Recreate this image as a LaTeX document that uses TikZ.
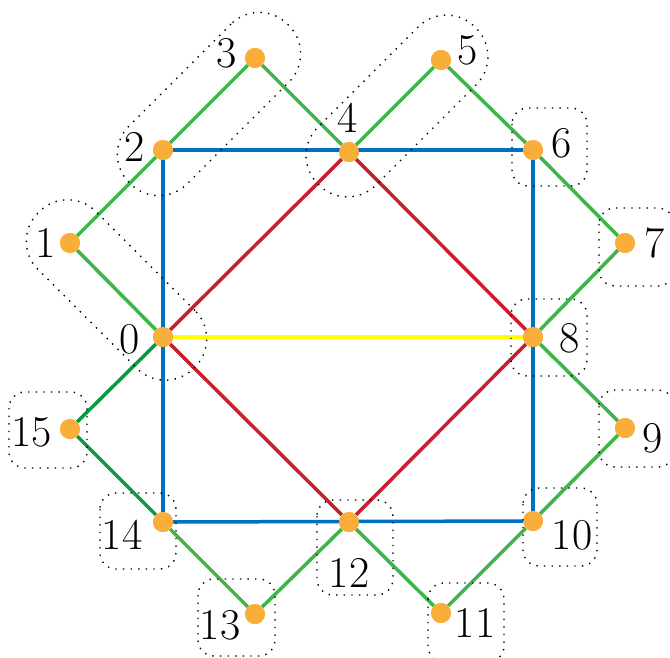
\documentclass[tikz,border=0pt]{standalone}
\usepackage{fontspec}
\begin{document}
\begin{tikzpicture}[x=1pt,y=-1pt,
  vtx/.style={circle,fill=vorange,inner sep=0pt,minimum size=20pt},
  lab/.style={inner sep=0pt,font=\fontsize{44}{48}\selectfont},
  ge/.style={draw=lgreen,line width=3.5pt},
  dge/.style={draw=dgreen,line width=3.5pt},
  be/.style={draw=vblue,line width=3.5pt},
  re/.style={draw=vred,line width=3.5pt},
  ye/.style={draw=vyellow,line width=3.5pt},
  grp/.style={draw=black,line width=1.4pt,dash pattern=on 1.4pt off 6.2pt,rounded corners=16pt},
  capsule/.style={draw=black,line width=1.4pt,dash pattern=on 1.4pt off 6.2pt,rounded corners=40pt,
    minimum width=220pt,minimum height=82pt,inner sep=0pt}]
\definecolor{vorange}{HTML}{F9AE3A}
\definecolor{lgreen}{HTML}{3DB54A}
\definecolor{dgreen}{HTML}{079A43}
\definecolor{vblue}{HTML}{0070C0}
\definecolor{vred}{HTML}{C8202F}
\definecolor{vyellow}{HTML}{FFFF00}
\useasboundingbox (0,0) rectangle (670,657);
% vertices
\node[vtx] (n0) at (163,337) {};
\node[vtx] (n1) at (70,243) {};
\node[vtx] (n2) at (163,150) {};
\node[vtx] (n3) at (255,58) {};
\node[vtx] (n4) at (349,152) {};
\node[vtx] (n5) at (441,60) {};
\node[vtx] (n6) at (533,150) {};
\node[vtx] (n7) at (625,243) {};
\node[vtx] (n8) at (533,337) {};
\node[vtx] (n9) at (625,428) {};
\node[vtx] (n10) at (533,521) {};
\node[vtx] (n11) at (441,613) {};
\node[vtx] (n12) at (349,522) {};
\node[vtx] (n13) at (255,614) {};
\node[vtx] (n14) at (163,522) {};
\node[vtx] (n15) at (70,429) {};
% edges
\draw[ye] (n0) -- (n8);
\draw[be] (n2) -- (n6);
\draw[be] (n6) -- (n10);
\draw[be] (n10) -- (n14);
\draw[be] (n14) -- (n2);
\draw[re] (n0) -- (n4);
\draw[re] (n4) -- (n8);
\draw[re] (n8) -- (n12);
\draw[re] (n12) -- (n0);
\draw[ge] (n0) -- (n1);
\draw[ge] (n1) -- (n2);
\draw[ge] (n2) -- (n3);
\draw[ge] (n3) -- (n4);
\draw[ge] (n4) -- (n5);
\draw[ge] (n5) -- (n6);
\draw[ge] (n6) -- (n7);
\draw[ge] (n7) -- (n8);
\draw[ge] (n8) -- (n9);
\draw[ge] (n9) -- (n10);
\draw[ge] (n10) -- (n11);
\draw[ge] (n11) -- (n12);
\draw[ge] (n12) -- (n13);
\draw[ge] (n13) -- (n14);
\draw[dge] (n14) -- (n15);
\draw[dge] (n15) -- (n0);
% redraw vertices on top
\foreach \i in {0,...,15} {\fill[vorange] (n\i) circle (10pt);}
% labels
\node[lab] (l0) at (130,339) {0};
\node[lab] (l1) at (46,243) {1};
\node[lab] (l2) at (135,147) {2};
\node[lab] (l3) at (227,53) {3};
\node[lab] (l4) at (348,118) {4};
\node[lab] (l5) at (468,50) {5};
\node[lab] (l6) at (562,143) {6};
\node[lab] (l7) at (655,243) {7};
\node[lab] (l8) at (570,338) {8};
\node[lab] (l9) at (653,438) {9};
\node[lab] (l10) at (572,535) {10};
\node[lab] (l11) at (475,623) {11};
\node[lab] (l12) at (349,573) {12};
\node[lab] (l13) at (220,625) {13};
\node[lab] (l14) at (122,535) {14};
\node[lab] (l15) at (32,432) {15};
% group outlines
\node[capsule,rotate=-45] (g01) at (116.5,290) {};
\node[capsule,rotate=45,minimum width=224pt] (g23) at (209,104) {};
\node[capsule,rotate=45,minimum width=222pt] (g45) at (397,106) {};
\draw[grp] (512,108) rectangle (587,186);
\draw[grp] (599,208) rectangle (674,286);
\draw[grp] (511,299) rectangle (587,376);
\draw[grp] (599,390) rectangle (674,467);
\draw[grp] (523,488) rectangle (597,566);
\draw[grp] (428,583) rectangle (504,662);
\draw[grp] (317,500) rectangle (393,595);
\draw[grp] (198,579) rectangle (275,656);
\draw[grp] (100,493) rectangle (176,569);
\draw[grp] (9,392) rectangle (87,468);
\end{tikzpicture}
\end{document}
